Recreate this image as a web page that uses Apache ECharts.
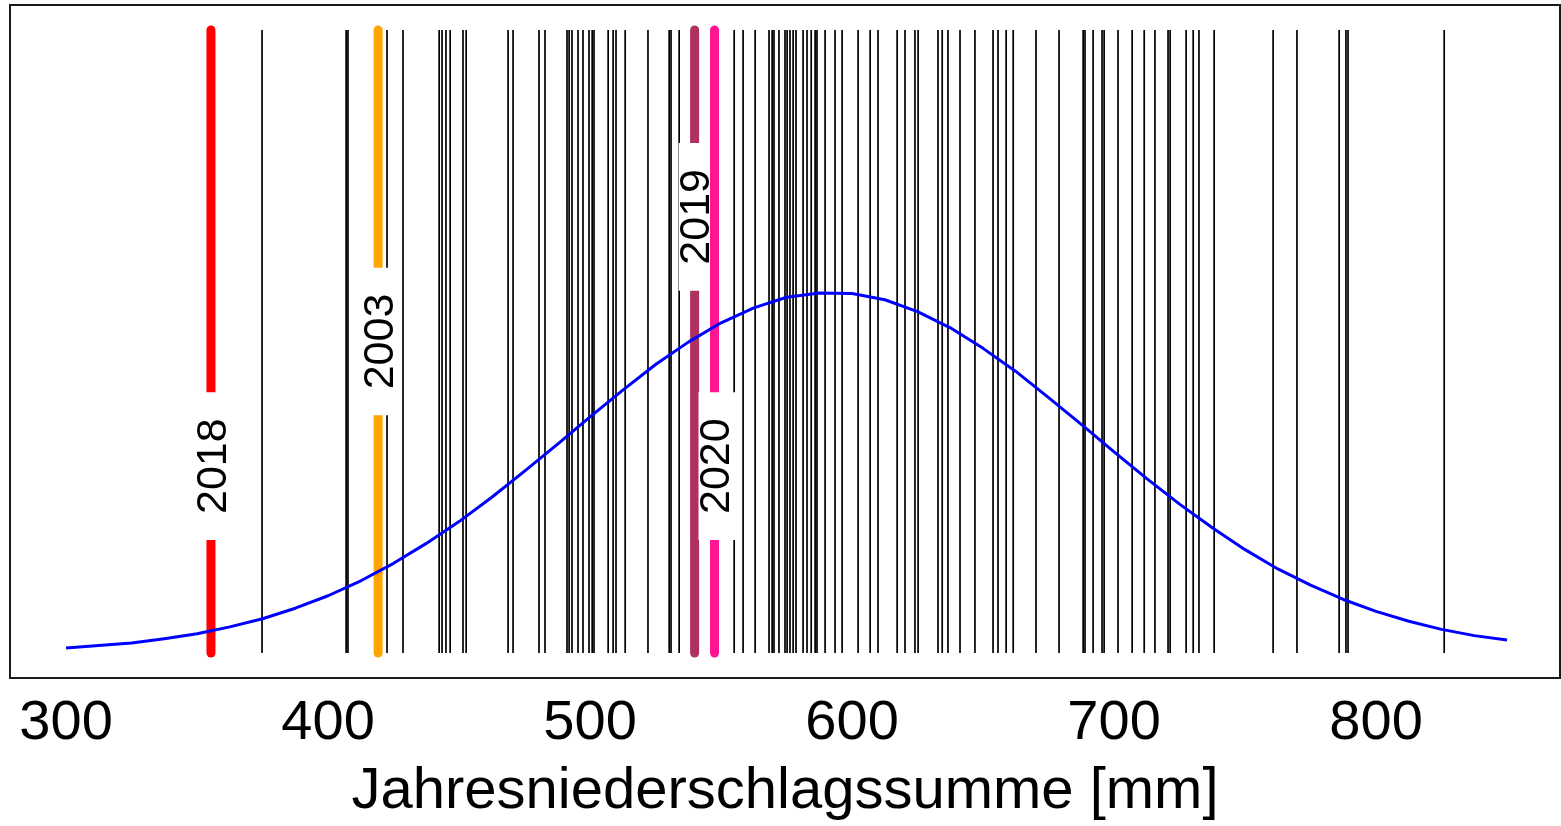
<!DOCTYPE html>
<html>
<head>
<meta charset="utf-8">
<script src="https://cdn.jsdelivr.net/npm/echarts@6/dist/echarts.min.js"></script>
<style>
html,body{margin:0;padding:0;background:#fff;}
#chart{width:1561px;height:826px;}
</style>
</head>
<body>
<div id="chart"></div>
<script>
// Annual precipitation totals [mm] of all other years (thin black lines)
const otherYearValues = [
  374.8, 406.9, 407.6, 422.5, 428.6, 442.4, 443.5, 445.0, 446.6, 451.5, 452.7,
  468.7, 470.6, 480.5, 482.8, 491.2, 492.0, 493.1, 495.4, 497.3, 499.6, 500.8,
  501.5, 506.9, 508.8, 509.9, 513.4, 522.1, 530.2, 530.9, 534.0, 555.0, 558.4,
  563.0, 568.3, 569.5, 570.2, 572.1, 574.4, 575.2, 576.3, 577.5, 578.6, 581.3,
  582.8, 584.4, 585.9, 586.6, 589.7, 593.5, 596.2, 602.3, 606.9, 609.9, 617.2,
  620.2, 624.0, 625.2, 632.8, 634.4, 636.6, 641.2, 646.9, 653.8, 655.7, 658.8,
  661.5, 670.2, 679.0, 688.2, 688.9, 692.0, 695.4, 696.2, 701.5, 706.9, 711.5,
  715.6, 720.6, 721.4, 727.5, 730.2, 732.4, 738.2, 760.7, 769.8, 785.9, 788.5,
  789.3, 826.0
];

// Highlighted years
const highlightYears = ['2018', '2003', '2019', '2020'];
const highlightValues = [355.3, 419.1, 539.9, 547.5];

// Fitted normal density curve (relative height)
const curveX = [300, 312.5, 325, 337.5, 350, 362.5, 375, 387.5, 400, 412.5, 425,
                437.5, 450, 462.5, 475, 487.5, 500, 512.5, 525, 537.5, 550, 562.5,
                575, 587.5, 600, 612.5, 625, 637.5, 650, 662.5, 675, 687.5, 700,
                712.5, 725, 737.5, 750, 762.5, 775, 787.5, 800, 812.5, 825, 837.5, 850];
const curveY = [0.008, 0.012, 0.016, 0.023, 0.031, 0.042, 0.055, 0.072, 0.092,
                0.116, 0.144, 0.176, 0.211, 0.250, 0.292, 0.335, 0.379, 0.422,
                0.463, 0.499, 0.530, 0.554, 0.571, 0.578, 0.577, 0.567, 0.548,
                0.522, 0.489, 0.452, 0.410, 0.367, 0.323, 0.280, 0.239, 0.201,
                0.166, 0.135, 0.109, 0.086, 0.067, 0.051, 0.038, 0.028, 0.021];

// X tick labels
const xTicks = [300, 400, 500, 600, 700, 800];
const xTitle = 'Jahresniederschlagssumme [mm]';

// Styles / layout (kept apart from data)
const highlightColors = ['#FF0000', '#FFA500', '#B03060', '#FF1493'];
const highlightLabelHeights = [0.30, 0.50, 0.70, 0.30];
const FONT = '"Liberation Sans", Arial, Helvetica, sans-serif';

const chart = echarts.init(document.getElementById('chart'), null, {renderer: 'canvas'});

const option = {
  animation: false,
  backgroundColor: '#fff',
  grid: {
    left: 10, right: 1, top: 5, bottom: 147,
    show: true, borderColor: '#1a1a1a', borderWidth: 2, backgroundColor: 'transparent'
  },
  xAxis: {
    type: 'value',
    min: 278.6, max: 870.2,
    axisLine: {show: false},
    axisTick: {show: false},
    splitLine: {show: false},
    axisLabel: {
      customValues: xTicks,
      fontSize: 56, color: '#000', fontFamily: FONT, margin: 18
    },
    name: xTitle,
    nameLocation: 'middle',
    nameGap: 85,
    nameTextStyle: {fontSize: 58, color: '#000', fontFamily: FONT}
  },
  yAxis: {
    type: 'value', min: -0.04, max: 1.04, show: false,
    splitLine: {show: false}
  },
  series: [
    {
      type: 'custom',
      z: 1,
      data: otherYearValues.map(v => [v]),
      renderItem: function (params, api) {
        const x = api.value(0);
        const p0 = api.coord([x, 0]);
        const p1 = api.coord([x, 1]);
        return {
          type: 'line',
          shape: {x1: p0[0], y1: p0[1], x2: p1[0], y2: p1[1]},
          style: {stroke: '#000', lineWidth: 1.7}
        };
      }
    },
    {
      type: 'custom',
      z: 2,
      data: highlightValues.map((v, i) => [v, highlightLabelHeights[i]]),
      renderItem: function (params, api) {
        const i = params.dataIndex;
        const x = api.value(0);
        const ly = api.value(1);
        const p0 = api.coord([x, 0]);
        const p1 = api.coord([x, 1]);
        const pl = api.coord([x, ly]);
        return {
          type: 'group',
          children: [
            {
              type: 'line',
              shape: {x1: p0[0], y1: p0[1], x2: p1[0], y2: p1[1]},
              style: {stroke: highlightColors[i], lineWidth: 9, lineCap: 'round'}
            },
            {
              type: 'text',
              x: pl[0] + 3, y: pl[1],
              rotation: Math.PI / 2,
              style: {
                text: highlightYears[i],
                font: '43px ' + FONT,
                fill: '#000',
                align: 'center',
                verticalAlign: 'middle',
                lineHeight: 36,
                backgroundColor: '#fff',
                padding: [1, 26]
              }
            }
          ]
        };
      }
    },
    {
      type: 'line',
      z: 3,
      data: curveX.map((x, i) => [x, curveY[i]]),
      smooth: false,
      showSymbol: false,
      lineStyle: {color: '#0000FF', width: 3, join: 'round'}
    }
  ]
};

chart.setOption(option);
</script>
</body>
</html>
